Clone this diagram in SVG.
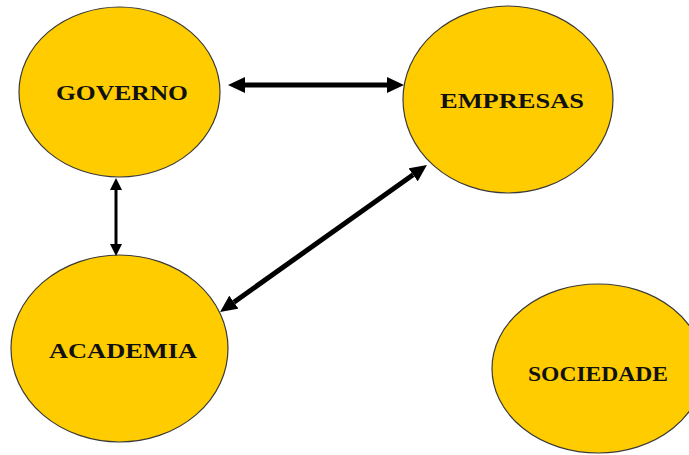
<svg xmlns="http://www.w3.org/2000/svg" width="689" height="455" viewBox="0 0 689 455">
  <style>
    .node ellipse { fill: #FFCC00; stroke: #3a3a3a; stroke-width: 1.2; }
    .node text { font-family: "Liberation Serif", "Times New Roman", serif; font-weight: bold; fill: #111; text-anchor: middle; }
    .link { stroke: #000; fill: none; }
  </style>
  <defs>
    <marker id="headL" markerUnits="userSpaceOnUse" markerWidth="17" markerHeight="16" refX="0" refY="8" orient="auto-start-reverse" viewBox="0 0 17 16">
      <path d="M0,0 L17,8 L0,16 Z" fill="#000"/>
    </marker>
    <marker id="headS" markerUnits="userSpaceOnUse" markerWidth="12" markerHeight="12" refX="0" refY="6" orient="auto-start-reverse" viewBox="0 0 12 12">
      <path d="M0,0 L12,6 L0,12 Z" fill="#000"/>
    </marker>
  </defs>

  <g id="governo" class="node">
    <ellipse cx="119.5" cy="92" rx="100.5" ry="85"/>
    <text x="122" y="99.5" font-size="22" textLength="132" lengthAdjust="spacingAndGlyphs">GOVERNO</text>
  </g>
  <g id="empresas" class="node">
    <ellipse cx="508" cy="99.5" rx="105" ry="93.5"/>
    <text x="512" y="108" font-size="22" textLength="144" lengthAdjust="spacingAndGlyphs">EMPRESAS</text>
  </g>
  <g id="academia" class="node">
    <ellipse cx="119.5" cy="348.5" rx="108.5" ry="93.5"/>
    <text x="123" y="357.5" font-size="22" textLength="148" lengthAdjust="spacingAndGlyphs">ACADEMIA</text>
  </g>
  <g id="sociedade" class="node">
    <ellipse cx="598" cy="368.5" rx="106" ry="84.5"/>
    <text x="598" y="381" font-size="21" textLength="140" lengthAdjust="spacingAndGlyphs">SOCIEDADE</text>
  </g>

  <g id="connectors">
    <line class="link" x1="245" y1="85" x2="387" y2="85" stroke-width="5" marker-start="url(#headL)" marker-end="url(#headL)"/>
    <line class="link" x1="116" y1="190" x2="116" y2="244" stroke-width="3" marker-start="url(#headS)" marker-end="url(#headS)"/>
    <line class="link" x1="233.9" y1="302.2" x2="413.1" y2="174.8" stroke-width="5" marker-start="url(#headL)" marker-end="url(#headL)"/>
  </g>
</svg>
